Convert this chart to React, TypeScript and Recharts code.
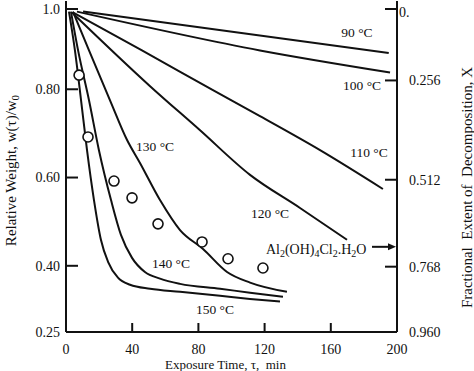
import { ComposedChart, Line, Scatter, XAxis, YAxis, ReferenceLine } from "recharts";

const FONT = '"Liberation Serif", "Times New Roman", Times, serif';
const INK = "#111";

// axes
const X_TICKS = [0, 40, 80, 120, 160, 200];
const W_TICKS = [0.25, 0.4, 0.6, 0.8, 1.0];
const W_TICK_LABELS = ["0.25", "0.40", "0.60", "0.80", "1.0"];
// right axis: fractional extent X, placed where the figure draws them (in w units)
const X_FRAC_TICKS = [0.25, 0.398, 0.595, 0.82, 1.0];
const X_FRAC_LABELS = ["0.960", "0.768", "0.512", "0.256", "0."];

// isotherms: exposure time (min) / relative weight
const T_90 = [10.3, 195.0];
const W_90 = [0.976, 0.882];
const T_100 = [6.6, 117.2, 195.8];
const W_100 = [0.976, 0.888, 0.838];
const T_110 = [4.2, 45.9, 88.8, 117.2, 153.5, 191.5];
const W_110 = [0.974, 0.888, 0.798, 0.739, 0.662, 0.574];
const T_120 = [3.6, 50.8, 81.0, 111.2, 141.4, 169.8];
const W_120 = [0.974, 0.807, 0.707, 0.606, 0.531, 0.459];
const T_130 = [4.2, 13.9, 26.6, 36.9, 44.7, 56.8, 68.9, 82.8, 97.3, 111.2, 133.5];
const W_130 = [0.976, 0.888, 0.775, 0.685, 0.633, 0.549, 0.481, 0.438, 0.386, 0.362, 0.341];
const T_140 = [3.0, 7.3, 13.9, 19.9, 27.2, 33.2, 39.9, 47.7, 56.8, 68.9, 93.1, 111.2, 131.1];
const W_140 = [0.976, 0.888, 0.775, 0.662, 0.549, 0.47, 0.418, 0.386, 0.371, 0.359, 0.348, 0.339, 0.33];
const T_150 = [1.8, 5.4, 9.1, 12.7, 16.9, 21.1, 25.4, 31.4, 38.7, 50.8, 68.9, 93.1, 111.2, 129.3];
const W_150 = [0.976, 0.888, 0.775, 0.662, 0.549, 0.459, 0.409, 0.373, 0.357, 0.348, 0.341, 0.332, 0.325, 0.319];

// experimental points (open circles)
const T_EXP = [7.9, 13.3, 29.0, 39.9, 55.6, 82.2, 97.9, 119.0];
const W_EXP = [0.832, 0.692, 0.592, 0.554, 0.495, 0.454, 0.416, 0.395];

// curve labels
const CURVE_LABELS = ["90 °C", "100 °C", "110 °C", "120 °C", "130 °C", "140 °C", "150 °C"];
const LABEL_T = [175.8, 178.9, 183.1, 123.3, 53.8, 63.4, 90.0];
const LABEL_W = [0.929, 0.809, 0.658, 0.518, 0.671, 0.405, 0.301];

// Al2(OH)4Cl2.H2O marker
const FORMULA_T = 120.8;
const FORMULA_W = 0.438;
const ARROW_T = [184.9, 199.4];
const ARROW_W = 0.443;

const pairs = (t: number[], w: number[]) => t.map((v, i) => ({ t: v, w: w[i] }));

const SERIES = [
  { name: "90", data: pairs(T_90, W_90) },
  { name: "100", data: pairs(T_100, W_100) },
  { name: "110", data: pairs(T_110, W_110) },
  { name: "120", data: pairs(T_120, W_120) },
  { name: "130", data: pairs(T_130, W_130) },
  { name: "140", data: pairs(T_140, W_140) },
  { name: "150", data: pairs(T_150, W_150) },
];

const expData = pairs(T_EXP, W_EXP);
const labelData = LABEL_T.map((t, i) => ({ t, w: LABEL_W[i], text: CURVE_LABELS[i] }));
const formulaData = [{ t: FORMULA_T, w: FORMULA_W }];

function LeftTick(props: any) {
  const { x, y, payload } = props;
  const label = W_TICK_LABELS[W_TICKS.indexOf(payload.value)];
  return (
    <g>
      <line x1={x} x2={x + 12} y1={y} y2={y} stroke={INK} strokeWidth={2} />
      <text x={x - 6} y={y} dy="0.35em" textAnchor="end" fontFamily={FONT} fontSize={14} fill={INK}>
        {label}
      </text>
    </g>
  );
}

function RightTick(props: any) {
  const { x, y, payload } = props;
  const i = X_FRAC_TICKS.indexOf(payload.value);
  const top = i === X_FRAC_TICKS.length - 1;
  return (
    <g>
      <line x1={x} x2={x - 12} y1={y} y2={y} stroke={INK} strokeWidth={2} />
      <text
        x={top ? x + 2 : x + 12}
        y={top ? y + 3 : y}
        dy="0.35em"
        textAnchor="start"
        fontFamily={FONT}
        fontSize={14}
        fill={INK}
      >
        {X_FRAC_LABELS[i]}
      </text>
    </g>
  );
}

function BottomTick(props: any) {
  const { x, y, payload } = props;
  return (
    <g>
      <line x1={x} x2={x} y1={y} y2={y - 9} stroke={INK} strokeWidth={2} />
      <text x={x} y={y + 17} dy="0.35em" textAnchor="middle" fontFamily={FONT} fontSize={14} fill={INK}>
        {payload.value}
      </text>
    </g>
  );
}

function TopTick(props: any) {
  const { x, y } = props;
  return <line x1={x} x2={x} y1={y} y2={y + 10} stroke={INK} strokeWidth={2} />;
}

const leftTitle = (props: any) => {
  const { x, y, height } = props.viewBox;
  return (
    <text
      transform={`translate(${x + 11},${y + height / 2 + 4}) rotate(-90)`}
      textAnchor="middle"
      dominantBaseline="central"
      fontFamily={FONT}
      fontSize={15}
      fill={INK}
    >
      Relative Weight, w(τ)/w
      <tspan fontSize={11} dy={4}>
        0
      </tspan>
    </text>
  );
};

const rightTitle = (props: any) => {
  const { x, y, height } = props.viewBox;
  return (
    <text
      transform={`translate(${x + 70},${y + height / 2 + 21}) rotate(-90)`}
      textAnchor="middle"
      dominantBaseline="central"
      fontFamily={FONT}
      fontSize={15}
      fill={INK}
    >
      {"Fractional\u00a0 Extent of\u00a0 Decomposition, X"}
    </text>
  );
};

const bottomTitle = (props: any) => {
  const { x, y, width } = props.viewBox;
  return (
    <text
      x={x + width / 2 - 6}
      y={y + 32}
      dy="0.35em"
      textAnchor="middle"
      fontFamily={FONT}
      fontSize={13}
      fill={INK}
    >
      {"Exposure Time, τ,\u00a0 min"}
    </text>
  );
};

const curveLabel = (props: any) => (
  <text
    x={props.cx}
    y={props.cy}
    dy="0.35em"
    textAnchor="middle"
    fontFamily={FONT}
    fontSize={13.5}
    fill={INK}
  >
    {props.payload?.text}
  </text>
);

const formulaLabel = (props: any) => (
  <text x={props.cx} y={props.cy} dy="0.35em" textAnchor="start" fontFamily={FONT} fontSize={14} fill={INK}>
    Al
    <tspan fontSize={10} dy={3}>2</tspan>
    <tspan dy={-3}>(OH)</tspan>
    <tspan fontSize={10} dy={3}>4</tspan>
    <tspan dy={-3}>Cl</tspan>
    <tspan fontSize={10} dy={3}>2</tspan>
    <tspan dy={-3}>.H</tspan>
    <tspan fontSize={10} dy={3}>2</tspan>
    <tspan dy={-3}>O</tspan>
  </text>
);

const arrowShape = (props: any) => {
  const { x1, y1, x2, y2 } = props;
  return (
    <g>
      <line x1={x1} y1={y1} x2={x2 - 6} y2={y2} stroke={INK} strokeWidth={2} />
      <polygon points={`${x2},${y2} ${x2 - 8},${y2 - 3.5} ${x2 - 8},${y2 + 3.5}`} fill={INK} />
    </g>
  );
};

const circleShape = (props: any) => (
  <circle cx={props.cx} cy={props.cy} r={5} fill="#fff" stroke={INK} strokeWidth={1.6} />
);

export default function App() {
  return (
    <div style={{ position: "absolute", left: 0, top: 0, width: 474, height: 371, background: "#fff" }}>
      <ComposedChart width={474} height={371} margin={{ top: 1, right: 0, bottom: 0, left: 0 }}>
        <XAxis
          dataKey="t"
          type="number"
          domain={[0, 200]}
          ticks={X_TICKS}
          allowDataOverflow
          height={39}
          tickSize={0}
          tickMargin={0}
          tickLine={false}
          tick={<BottomTick />}
          axisLine={{ stroke: INK, strokeWidth: 2 }}
          label={{ content: bottomTitle }}
        />
        <XAxis
          xAxisId="top"
          orientation="top"
          dataKey="t"
          type="number"
          domain={[0, 200]}
          ticks={X_TICKS}
          height={0}
          tickSize={0}
          tickMargin={0}
          tickLine={false}
          tick={<TopTick />}
          axisLine={{ stroke: INK, strokeWidth: 3 }}
        />
        <YAxis
          type="number"
          domain={[0.25, 1.0]}
          ticks={W_TICKS}
          allowDataOverflow
          width={66}
          tickSize={0}
          tickMargin={0}
          tickLine={false}
          tick={<LeftTick />}
          axisLine={{ stroke: INK, strokeWidth: 2 }}
          label={{ content: leftTitle }}
        />
        <YAxis
          yAxisId="right"
          orientation="right"
          type="number"
          domain={[0.25, 1.0]}
          ticks={X_FRAC_TICKS}
          allowDataOverflow
          width={77}
          tickSize={0}
          tickMargin={0}
          tickLine={false}
          tick={<RightTick />}
          axisLine={{ stroke: INK, strokeWidth: 2 }}
          label={{ content: rightTitle }}
        />
        {SERIES.map((s) => (
          <Line
            key={s.name}
            data={s.data}
            dataKey="w"
            type="monotone"
            stroke={INK}
            strokeWidth={2}
            dot={false}
            activeDot={false}
            isAnimationActive={false}
          />
        ))}
        <Scatter data={expData} dataKey="w" shape={circleShape} isAnimationActive={false} />
        <Scatter data={labelData} dataKey="w" shape={curveLabel} isAnimationActive={false} />
        <Scatter data={formulaData} dataKey="w" shape={formulaLabel} isAnimationActive={false} />
        <ReferenceLine
          segment={[
            { x: ARROW_T[0], y: ARROW_W },
            { x: ARROW_T[1], y: ARROW_W },
          ]}
          shape={arrowShape}
        />
      </ComposedChart>
    </div>
  );
}
